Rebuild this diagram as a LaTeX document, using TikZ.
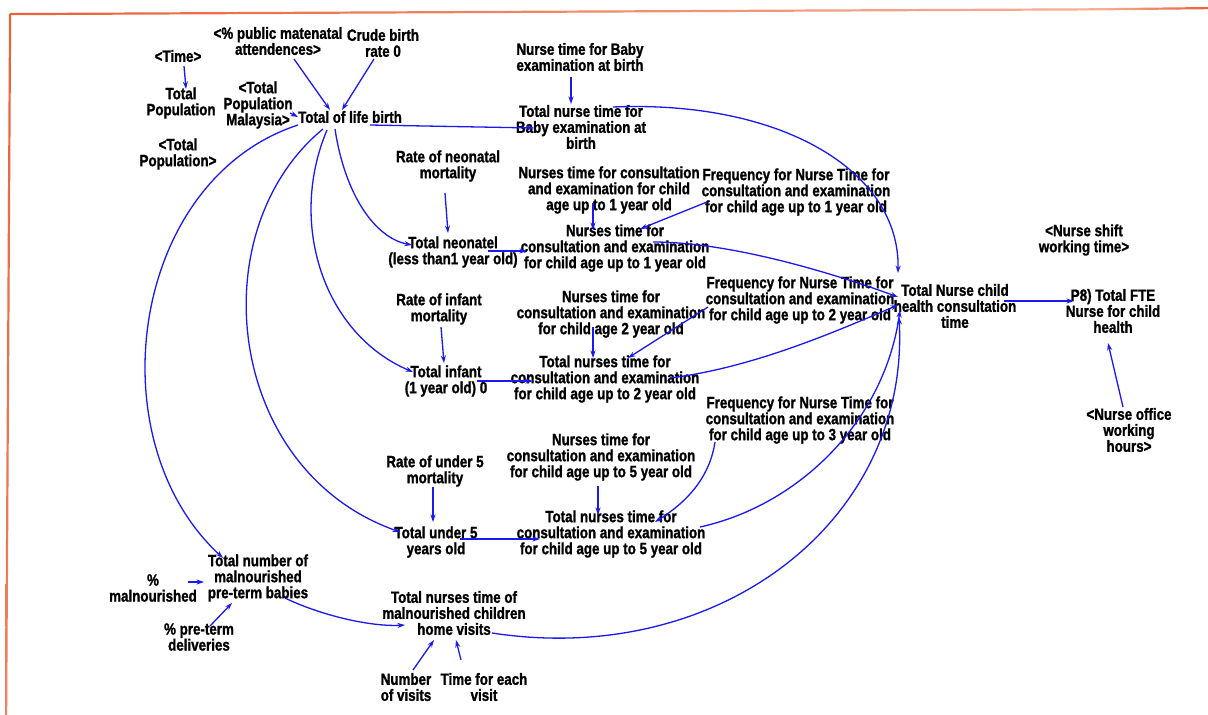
\documentclass[tikz,border=0pt]{standalone}
\usepackage{fontspec}
\setmainfont{Liberation Sans}[FakeStretch=0.82, BoldFeatures={FakeBold=1.3}]
\usetikzlibrary{arrows.meta}
\definecolor{arr}{RGB}{25,25,240}
\definecolor{frA}{RGB}{232,98,58}
\definecolor{frB}{RGB}{246,176,150}
\newcommand{\vfont}{\fontsize{16.3}{16}\selectfont\bfseries}
\begin{document}
\begin{tikzpicture}[x=1pt,y=-1pt,
  var/.style={font=\vfont, align=center, inner sep=0pt, text=black},
  link/.style={draw=arr, line width=1.3pt, -{Stealth[length=7.5pt,width=5pt]}}]
\useasboundingbox[fill=white] (0,0) rectangle (1208,715);
% frame
\shade[left color=frA, right color=frB] (10,13) -- (1100,8.2) -- (1100,10.4) -- (10,15.2) -- cycle;
\shade[left color=frB, right color=frA] (1100,8.2) -- (1208,7) -- (1208,9.2) -- (1100,10.4) -- cycle;
\shade[top color=frA, bottom color=frA!60!frB] (9,14) -- (11.2,14) -- (7.2,715) -- (5,715) -- cycle;
% nodes
\node[var] (time) at (178,56) {<Time>};
\node[var] (totpop) at (181,103) {Total\\Population};
\node[var] (pubmat) at (278,41) {<\% public matenatal\\attendences>};
\node[var] (crude) at (383,43) {Crude birth\\rate 0};
\node[var] (tpm) at (258,105) {<Total\\Population\\Malaysia>};
\node[var] (tlb) at (350,117) {Total of life birth};
\node[var] (tpop) at (178,154) {<Total\\Population>};
\node[var] (nbaby) at (580,57) {Nurse time for Baby\\examination at birth};
\node[var] (tnbaby) at (581,127) {Total nurse time for\\Baby examination at\\birth};
\node[var] (rneo) at (448,166) {Rate of neonatal\\mortality};
\node[var] (tneo) at (453,252) {Total neonatel\\(less than1 year old)};
\node[var] (nc1) at (609,190) {Nurses time for consultation\\and examination for child\\age up to 1 year old};
\node[var] (fr1) at (796,192) {Frequency for Nurse Time for\\consultation and examination\\for child age up to 1 year old};
\node[var] (n1) at (615,248) {Nurses time for\\consultation and examination\\for child age up to 1 year old};
\node[var] (rinf) at (439,309) {Rate of infant\\mortality};
\node[var] (tinf) at (446,381) {Total infant\\(1 year old) 0};
\node[var] (nc2) at (611,314) {Nurses time for\\consultation and examination\\for child age 2 year old};
\node[var] (fr2) at (800,300) {Frequency for Nurse Time for\\consultation and examination\\for child age up to 2 year old};
\node[var] (tn2) at (605,379) {Total nurses time for\\consultation and examination\\for child age up to 2 year old};
\node[var] (fr3) at (800,420) {Frequency for Nurse Time for\\consultation and examination\\for child age up to 3 year old};
\node[var] (nc5) at (601,457) {Nurses time for\\consultation and examination\\for child age up to 5 year old};
\node[var] (r5) at (435,471) {Rate of under 5\\mortality};
\node[var] (t5) at (436,542) {Total under 5\\years old};
\node[var] (tn5) at (611,534) {Total nurses time for\\consultation and examination\\for child age up to 5 year old};
\node[var] (tnc) at (955,306) {Total Nurse child\\health consultation\\time};
\node[var] (fte) at (1113,311) {P8) Total FTE\\Nurse for child\\health};
\node[var] (shift) at (1084,240) {<Nurse shift\\working time>};
\node[var] (office) at (1129,430) {<Nurse office\\working\\hours>};
\node[var] (mal) at (258,578) {Total number of\\malnourished\\pre-term babies};
\node[var] (pmal) at (153,588) {\%\\malnourished};
\node[var] (ppre) at (199,637) {\% pre-term\\deliveries};
\node[var] (home) at (454,613) {Total nurses time of\\malnourished children\\home visits};
\node[var] (visits) at (406,687) {Number\\of visits};
\node[var] (tfe) at (484,687) {Time for each\\visit};
% connectors
\draw[link] ([shift={(6,10)}]time.center) -- ([shift={(5,-14)}]totpop.center);
\draw[link] ([shift={(16,18)}]pubmat.center) -- ([shift={(-20,-7)}]tlb.center);
\draw[link] ([shift={(-9,16)}]crude.center) -- ([shift={(-8,-7)}]tlb.center);
\draw[link] ([shift={(32,8)}]tpm.center) -- ([shift={(-52,0)}]tlb.center);
\draw[link] ([shift={(20,8)}]tlb.center) -- ([shift={(-47,1)}]tnbaby.center);
\draw[link] ([shift={(-9,20)}]nbaby.center) -- ([shift={(-10,-23)}]tnbaby.center);
\draw[link] ([shift={(-15,12)}]tlb.center) .. controls +(10,66) and +(-37,-7) .. ([shift={(-41,-7)}]tneo.center);
\draw[link] ([shift={(-3,27)}]rneo.center) -- ([shift={(-5,-19)}]tneo.center);
\draw[link] ([shift={(35,-1)}]tneo.center) -- ([shift={(-88,3)}]n1.center);
\draw[link] ([shift={(-16,13)}]nc1.center) -- ([shift={(-22,-18)}]n1.center);
\draw[link] ([shift={(-89,10)}]fr1.center) -- ([shift={(25,-19)}]n1.center);
\draw[link] ([shift={(-23,13)}]tlb.center) .. controls +(-40,95) and +(-88,-37) .. ([shift={(-33,-9)}]tinf.center);
\draw[link] ([shift={(2,18)}]rinf.center) -- ([shift={(-2,-18)}]tinf.center);
\draw[link] ([shift={(31,0)}]tinf.center) -- ([shift={(-72,2)}]tn2.center);
\draw[link] ([shift={(-18,13)}]nc2.center) -- ([shift={(-12,-21)}]tn2.center);
\draw[link] ([shift={(-92,7)}]fr2.center) -- ([shift={(23,-21)}]tn2.center);
\draw[link] ([shift={(-27,12)}]tlb.center) .. controls +(-123,101) and +(-175,-62) .. ([shift={(-36,-10)}]t5.center);
\draw[link] ([shift={(-2,16)}]r5.center) -- ([shift={(-3,-20)}]t5.center);
\draw[link] ([shift={(24,-3)}]t5.center) -- ([shift={(-71,5)}]tn5.center);
\draw[link] ([shift={(-3,29)}]nc5.center) -- ([shift={(-13,-19)}]tn5.center);
\draw[link] ([shift={(-85,22)}]fr3.center) .. controls +(-5,33) and +(35,-22) .. ([shift={(44,-12)}]tn5.center);
\draw[link] ([shift={(-52,8)}]tlb.center) .. controls +(-168,55) and +(-128,-118) .. ([shift={(-35,-20)}]mal.center);
\draw[link] ([shift={(35,-6)}]pmal.center) -- ([shift={(-54,4)}]mal.center);
\draw[link] ([shift={(11,-11)}]ppre.center) -- ([shift={(-26,25)}]mal.center);
\draw[link] ([shift={(27,20)}]mal.center) .. controls +(35,17) and +(-35,2) .. ([shift={(-49,12)}]home.center);
\draw[link] ([shift={(7,-17)}]visits.center) -- ([shift={(-20,27)}]home.center);
\draw[link] ([shift={(-23,-27)}]tfe.center) -- ([shift={(2,27)}]home.center);
\draw[link] ([shift={(38,20)}]home.center) .. controls +(228,35) and +(11,203) .. ([shift={(-56,11)}]tnc.center);
\draw[link] ([shift={(32,-20)}]tnbaby.center) .. controls +(167,-7) and +(2,-103) .. ([shift={(-57,-33)}]tnc.center);
\draw[link] ([shift={(38,-6)}]n1.center) .. controls +(80,0) and +(-60,-22) .. ([shift={(-57,-9)}]tnc.center);
\draw[link] ([shift={(65,-1)}]tn2.center) .. controls +(80,-10) and +(-70,30) .. ([shift={(-57,-1)}]tnc.center);
\draw[link] ([shift={(89,-7)}]tn5.center) .. controls +(100,-22) and +(-15,110) .. ([shift={(-55,4)}]tnc.center);
\draw[link] ([shift={(49,-5)}]tnc.center) -- ([shift={(-39,-10)}]fte.center);
\draw[link] ([shift={(-6,-23)}]office.center) -- ([shift={(-5,32)}]fte.center);
\end{tikzpicture}
\end{document}
